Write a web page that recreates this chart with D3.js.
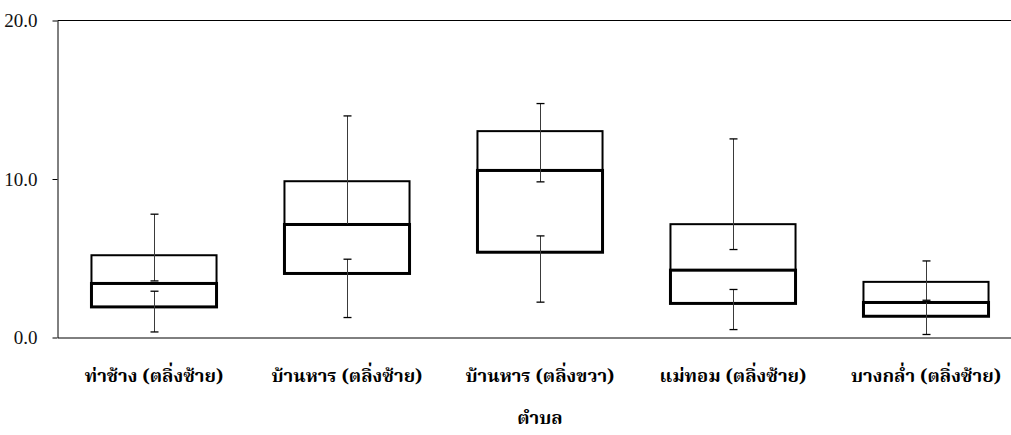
<!DOCTYPE html>
<html>
<head>
<meta charset="utf-8">
<script src="https://cdn.jsdelivr.net/npm/d3@7"></script>
<style>
  html, body { margin: 0; padding: 0; background: #fff; }
  svg { display: block; }
  text.ylab { font-family: "Liberation Serif", "DejaVu Serif", serif; font-size: 19px; }
</style>
</head>
<body>
<svg id="chart" width="1011" height="435"></svg>
<script>
// Sampling sites (ตำบล) along the river banks
const categories = [
  "ท่าช้าง (ตลิ่งซ้าย)",
  "บ้านหาร (ตลิ่งซ้าย)",
  "บ้านหาร (ตลิ่งขวา)",
  "แม่ทอม (ตลิ่งซ้าย)",
  "บางกล่ำ (ตลิ่งซ้าย)"
];

// Box statistics per site
const q1     = [1.93, 4.04, 5.38, 2.15, 1.34];
const median = [3.41, 7.13, 10.54, 4.25, 2.21];
const q3     = [5.19, 9.86, 13.02, 7.15, 3.51];

// Whisker segments (each drawn with a cap at both ends)
const upperWhiskerLow  = [3.57, 7.13, 9.82, 5.55, 2.35];
const upperWhiskerHigh = [7.78, 13.98, 14.76, 12.53, 4.83];
const lowerWhiskerLow  = [0.35, 1.26, 2.23, 0.50, 0.19];
const lowerWhiskerHigh = [2.92, 4.94, 6.41, 3.03, 2.25];

const yTicks = [0, 10, 20];
const xTitle = "ตำบล";

const thaiFont = "'Noto Serif Thai', Norasi, 'Noto Sans Thai', Loma, serif";

const svg = d3.select("#chart");
const plotLeft = 57.5, plotRight = 1022.5, plotTop = 20.5, plotBottom = 337.5;

const x = d3.scaleBand()
  .domain(categories)
  .range([plotLeft, plotRight])
  .paddingInner(0.352)
  .paddingOuter(0.176);

const y = d3.scaleLinear().domain([0, 20]).range([plotBottom, plotTop]);

const rows = categories.map((c, i) => ({
  c, q1: q1[i], med: median[i], q3: q3[i],
  uLo: upperWhiskerLow[i], uHi: upperWhiskerHigh[i],
  lLo: lowerWhiskerLow[i], lHi: lowerWhiskerHigh[i]
}));

// Plot frame: top edge
svg.append("line")
  .attr("x1", plotLeft).attr("x2", plotRight)
  .attr("y1", plotTop).attr("y2", plotTop)
  .attr("stroke", "#000").attr("stroke-width", 1);

// Y axis: line and ticks from d3.axisLeft, labels set in the serif face
const yAxis = svg.append("g")
  .attr("transform", `translate(${plotLeft},0)`)
  .call(d3.axisLeft(y).tickValues(yTicks).tickFormat(d3.format(".1f")).tickSizeInner(5).tickSizeOuter(0).tickPadding(15));
yAxis.attr("font-family", null).attr("font-size", null);
yAxis.select(".domain").attr("stroke", "#000");
yAxis.selectAll(".tick line").attr("stroke", "#000");
yAxis.selectAll(".tick text")
  .attr("class", "ylab")
  .attr("dy", "0.34em")
  .attr("fill", "#111");

// X axis (line only, labels below)
const xAxis = svg.append("g")
  .attr("transform", `translate(0,${plotBottom})`)
  .call(d3.axisBottom(x).tickSize(0).tickPadding(0));
xAxis.select(".domain").attr("stroke", "#000");
xAxis.selectAll(".tick text")
  .attr("y", 44)
  .attr("dy", 0)
  .style("font-family", thaiFont)
  .style("font-weight", "bold")
  .style("font-size", "18.5px")
  .attr("fill", "#000");

// Axis title
svg.append("text")
  .attr("x", (plotLeft + plotRight) / 2)
  .attr("y", 424)
  .attr("text-anchor", "middle")
  .style("font-family", thaiFont)
  .style("font-weight", "bold")
  .style("font-size", "18.5px")
  .attr("fill", "#000")
  .text(xTitle);

const g = svg.append("g");

// Upper box: median → Q3
g.selectAll(".upper").data(rows).join("rect")
  .attr("class", "upper")
  .attr("x", d => x(d.c))
  .attr("width", x.bandwidth())
  .attr("y", d => y(d.q3))
  .attr("height", d => y(d.med) - y(d.q3))
  .attr("fill", "none").attr("stroke", "#000").attr("stroke-width", 2);

// Lower box: Q1 → median
g.selectAll(".lower").data(rows).join("rect")
  .attr("class", "lower")
  .attr("x", d => x(d.c))
  .attr("width", x.bandwidth())
  .attr("y", d => y(d.med))
  .attr("height", d => y(d.q1) - y(d.med))
  .attr("fill", "none").attr("stroke", "#000").attr("stroke-width", 3);

// Whiskers with end caps
function whisker(lo, hi) {
  const wg = g.append("g");
  rows.forEach(d => {
    const cx = Math.round(x(d.c) + x.bandwidth() / 2) + 0.5;
    const y0 = y(d[lo]), y1 = y(d[hi]);
    wg.append("line").attr("x1", cx).attr("x2", cx).attr("y1", y0).attr("y2", y1)
      .attr("stroke", "#3a3a3a").attr("stroke-width", 1);
    [y0, y1].forEach(yy => {
      wg.append("line").attr("x1", cx - 4).attr("x2", cx + 4).attr("y1", yy).attr("y2", yy)
        .attr("stroke", "#000").attr("stroke-width", 1.3);
    });
  });
}
whisker("uLo", "uHi");
whisker("lLo", "lHi");
</script>
</body>
</html>
